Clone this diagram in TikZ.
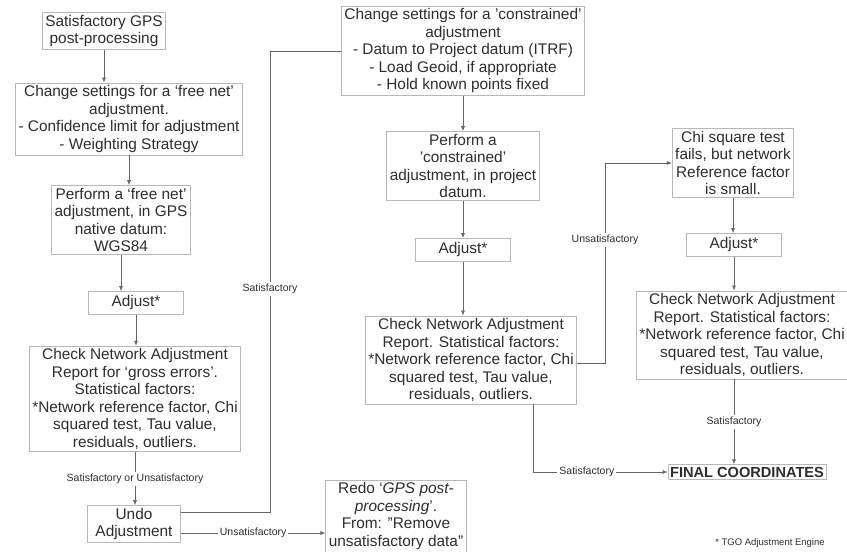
\documentclass[tikz,border=0pt]{standalone}
\usepackage{fontspec}
\setmainfont{Liberation Sans}
\usetikzlibrary{arrows.meta,positioning,calc}

\definecolor{boxline}{gray}{0.72}
\definecolor{ink}{gray}{0.18}
\definecolor{wire}{gray}{0.4}

\begin{document}
\begin{tikzpicture}[
  x=1pt, y=-1pt,
  font=\fontsize{15.4}{17.5}\selectfont,
  >={Latex[length=5pt,width=4pt]},
  box/.style={draw=boxline,line width=0.8pt,inner xsep=3pt,inner ysep=2.5pt,align=center,text=ink,fill=white},
  adjbox/.style={box,minimum width=95pt,minimum height=23pt},
  lab/.style={font=\fontsize{10.5}{12}\selectfont,text=ink,fill=white,inner sep=2pt},
  link/.style={draw=wire,line width=0.7pt}
]
\useasboundingbox (0,0) rectangle (847,552);

% ---- Free net column ----
\node[box] (gps) at (104,31) {Satisfactory GPS\\post-processing};
\node[box] (freeset) at (129,119) {Change settings for a `free net'\\adjustment.\\- Confidence limit for adjustment\\- Weighting Strategy};
\node[box] (freerun) at (121,220) {Perform a `free net'\\adjustment, in GPS\\native datum:\\WGS84};
\node[adjbox] (adj1) at (136,303) {Adjust*};
\node[box] (check1) at (135,399) {Check Network Adjustment\\Report for `gross errors'.\\Statistical factors:\\*Network reference factor, Chi\\squared test, Tau value,\\residuals, outliers.};
\node[box,inner xsep=8pt] (undo) at (134,524) {Undo\\Adjustment};
\node[box] (redo) at (396,516) {Redo `\textit{GPS post-}\\\textit{processing}'.\\From: "Remove\\unsatisfactory data"};

% ---- Constrained column ----
\node[box] (conset) at (463,51) {Change settings for a 'constrained'\\adjustment\\- Datum to Project datum (ITRF)\\- Load Geoid, if appropriate\\- Hold known points fixed};
\node[box] (conrun) at (463,166) {Perform a\\'constrained'\\adjustment, in project\\datum.};
\node[adjbox] (adj2) at (463,250) {Adjust*};
\node[box] (check2) at (471,360) {Check Network Adjustment\\Report. Statistical factors:\\*Network reference factor, Chi\\squared test, Tau value,\\residuals, outliers.};

% ---- Right column ----
\node[box] (chisq) at (733,163) {Chi square test\\fails, but network\\Reference factor\\is small.};
\node[adjbox] (adj3) at (734,245) {Adjust*};
\node[box] (check3) at (742,335) {Check Network Adjustment\\Report. Statistical factors:\\*Network reference factor, Chi\\squared test, Tau value,\\residuals, outliers.};
\node[box,font=\fontsize{14.6}{17}\bfseries,inner sep=2pt] (final) at (747,472) {FINAL COORDINATES};
\node[lab,fill=none,font=\fontsize{9.5}{11}\selectfont] (tgo) at (770,543) {* TGO Adjustment Engine};

% ---- Arrows ----
\foreach \a/\b in {gps/freeset,freeset/freerun,freerun/adj1,adj1/check1,conset/conrun,conrun/adj2,adj2/check2,chisq/adj3} {
  \draw[link,->] (\a.south) -- (\a.south |- \b.north);
}
\draw[link,->] (adj3.south) -- (adj3.south |- check3.north);
\draw[link,->] (check1.south) -- node[lab] {Satisfactory or Unsatisfactory} (check1.south |- undo.north);
\draw[link,->] (adj3.south |- check3.south) -- node[lab] {Satisfactory} (adj3.south |- final.north);

\coordinate (up) at (270,512);
\coordinate (back) at (270,533);
\draw[link] (undo.east |- up) -- (up) |- (conset.west);
\node[lab] (satup) at (270,289) {Satisfactory};
\draw[link,->] (undo.east |- back) -- node[lab] {Unsatisfactory} (redo.west |- back);

\coordinate (fail) at (605,363);
\draw[link,->] (check2.east |- fail) -- (fail) |- (chisq.west);
\node[lab] (unsat) at (605,240) {Unsatisfactory};

\coordinate (ok) at (533,472);
\draw[link,->] (check2.south -| ok) -- (ok) -- node[lab,pos=0.4] {Satisfactory} (final.west);

\end{tikzpicture}
\end{document}
